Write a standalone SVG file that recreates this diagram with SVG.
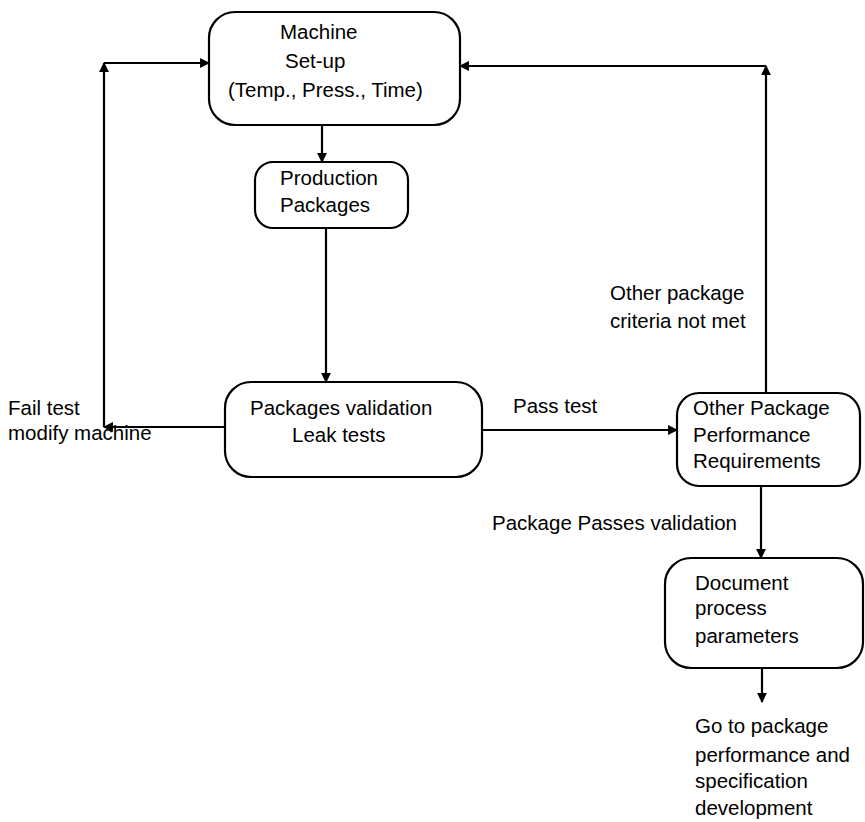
<svg xmlns="http://www.w3.org/2000/svg" width="865" height="822" viewBox="0 0 865 822">
<style>
.box{fill:#fff;stroke:#000;stroke-width:2.2}
.ln{fill:none;stroke:#000;stroke-width:2.2}
.t{font-family:"Liberation Sans",Arial,sans-serif;font-size:20.5px;fill:#000}
</style>
<defs>
<marker id="ah" viewBox="0 0 10 10" refX="9" refY="5" markerWidth="4.5" markerHeight="4.5" orient="auto" markerUnits="strokeWidth">
<path d="M0,0 L10,5 L0,10 z" fill="#000"/>
</marker>
</defs>
<rect width="865" height="822" fill="#fff"/>
<g id="connectors">
<line class="ln" x1="322" y1="125" x2="322" y2="162" marker-end="url(#ah)"/>
<line class="ln" x1="326" y1="228" x2="326" y2="382" marker-end="url(#ah)"/>
<line class="ln" x1="225" y1="427" x2="104" y2="427" marker-end="url(#ah)"/>
<line class="ln" x1="104" y1="427" x2="104" y2="63" marker-end="url(#ah)"/>
<line class="ln" x1="104" y1="63" x2="209" y2="63" marker-end="url(#ah)"/>
<line class="ln" x1="482" y1="430" x2="677" y2="430" marker-end="url(#ah)"/>
<line class="ln" x1="766" y1="393" x2="766" y2="66" marker-end="url(#ah)"/>
<line class="ln" x1="766" y1="66" x2="460" y2="66" marker-end="url(#ah)"/>
<line class="ln" x1="761" y1="487" x2="761" y2="558" marker-end="url(#ah)"/>
<line class="ln" x1="762" y1="668" x2="762" y2="702" marker-end="url(#ah)"/>
<text class="t" x="8" y="415">Fail test</text>
<text class="t" x="8" y="440">modify machine</text>
<text class="t" x="513" y="413">Pass test</text>
<text class="t" x="610" y="300">Other package</text>
<text class="t" x="610" y="328">criteria not met</text>
<text class="t" x="492" y="530">Package Passes validation</text>
</g>
<g id="machine-setup">
<rect class="box" x="209" y="12" width="251" height="113" rx="26"/>
<text class="t" x="280" y="39">Machine</text>
<text class="t" x="285" y="68">Set-up</text>
<text class="t" x="228" y="97">(Temp., Press., Time)</text>
</g>
<g id="production-packages">
<rect class="box" x="255" y="162" width="153" height="66" rx="18"/>
<text class="t" x="280" y="185">Production</text>
<text class="t" x="280" y="212">Packages</text>
</g>
<g id="packages-validation">
<rect class="box" x="225" y="382" width="257" height="95" rx="26"/>
<text class="t" x="250" y="415">Packages validation</text>
<text class="t" x="292" y="442">Leak tests</text>
</g>
<g id="other-requirements">
<rect class="box" x="677" y="393" width="183" height="93" rx="22"/>
<text class="t" x="693" y="415">Other Package</text>
<text class="t" x="693" y="442">Performance</text>
<text class="t" x="693" y="468">Requirements</text>
</g>
<g id="document-parameters">
<rect class="box" x="665" y="558" width="198" height="110" rx="26"/>
<text class="t" x="695" y="590">Document</text>
<text class="t" x="695" y="615">process</text>
<text class="t" x="695" y="643">parameters</text>
</g>
<g id="go-to-development">
<text class="t" x="695" y="733">Go to package</text>
<text class="t" x="695" y="762">performance and</text>
<text class="t" x="695" y="788">specification</text>
<text class="t" x="695" y="815">development</text>
</g>
</svg>
